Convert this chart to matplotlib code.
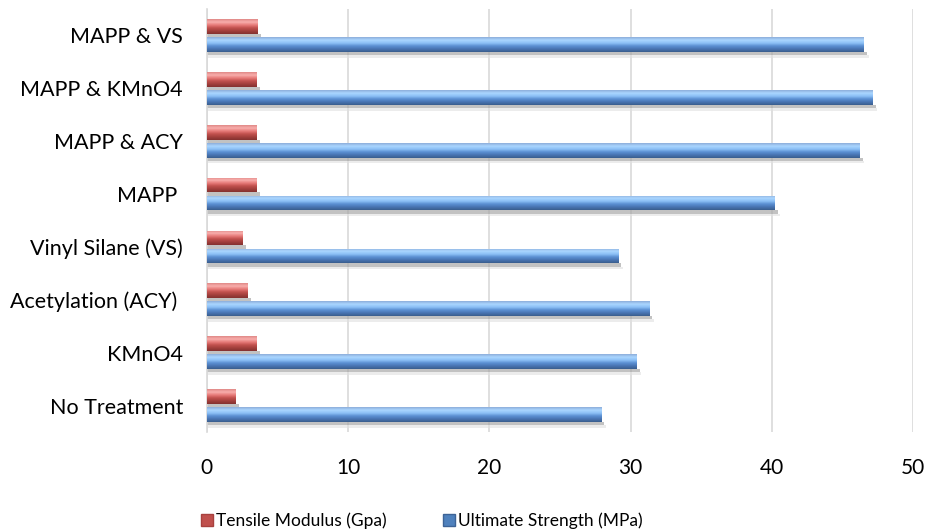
import numpy as np
import matplotlib
matplotlib.use("Agg")
import matplotlib.pyplot as plt
from matplotlib.colors import LinearSegmentedColormap
from matplotlib.patches import Rectangle, Patch

treatments = ["No Treatment", "KMnO4", "Acetylation (ACY) ", "Vinyl Silane (VS)",
              "MAPP ", "MAPP & ACY", "MAPP & KMnO4", "MAPP & VS"]
modulus = [2.0, 3.5, 2.9, 2.5, 3.5, 3.5, 3.5, 3.6]          # Tensile Modulus (Gpa)
strength = [27.9, 30.4, 31.3, 29.1, 40.2, 46.2, 47.1, 46.5]  # Ultimate Strength (MPa)
xticks = [0, 10, 20, 30, 40, 50]

plt.rcParams['font.family'] = ['Lato', 'DejaVu Sans']

# top -> bottom shading for the "cylinder" look
blue_cm = LinearSegmentedColormap.from_list(
    "b", ["#8eaedb", "#aad6ff", "#8cc0f6", "#5b8fd2", "#4874b2", "#3a5e8e"])
red_cm = LinearSegmentedColormap.from_list(
    "r", ["#e08a88", "#f8aeac", "#e77a78", "#c0504d", "#a23f3c", "#843230"])
grad = np.linspace(0, 1, 64).reshape(-1, 1)

fig, ax = plt.subplots(figsize=(9.27, 5.32), dpi=100)
fig.subplots_adjust(left=0.223, right=0.985, top=0.983, bottom=0.188)

y = np.arange(len(treatments))
h = 0.28
off = 0.17


def shaded_bars(ypos, vals, cmap, color):
    bars = ax.barh(ypos, vals, height=h, color=color, zorder=3)
    for b in bars:
        x0, y0 = b.get_x(), b.get_y()
        w, hh = b.get_width(), b.get_height()
        # soft shadow under the bar
        ax.add_patch(Rectangle((x0, y0 - 0.06), w + 0.25, 0.06,
                               color="#a8a8a8", alpha=0.7, lw=0, zorder=2))
        ax.add_patch(Rectangle((x0, y0 - 0.11), w + 0.35, 0.05,
                               color="#e0e0e0", alpha=0.6, lw=0, zorder=2))
        im = ax.imshow(grad, cmap=cmap, aspect="auto", origin="upper",
                       extent=(x0, x0 + w, y0, y0 + hh), zorder=4)
        im.set_clip_path(b)
    return bars


shaded_bars(y - off, strength, blue_cm, "#4f81bd")
shaded_bars(y + off, modulus, red_cm, "#c0504d")

ax.set_xlim(0, 50)
ax.set_ylim(-0.5, 7.5)
ax.set_xticks(xticks)
ax.set_yticks(y)
ax.set_yticklabels(treatments, fontsize=15.5)
ax.tick_params(axis="x", labelsize=15, length=0, pad=19)
ax.tick_params(axis="y", length=0, pad=17)
ax.grid(axis="x", color="#d9d9d9", lw=1.2, zorder=0)
for s in ["top", "right", "bottom"]:
    ax.spines[s].set_visible(False)
ax.spines["left"].set_color("#d9d9d9")
ax.spines["left"].set_linewidth(1.2)

handles = [Patch(facecolor="#c0504d", edgecolor="#a8413e"),
           Patch(facecolor="#4f81bd", edgecolor="#3d6396")]
fig.legend(handles, ["Tensile Modulus (Gpa)", "Ultimate Strength (MPa)"],
           loc="lower center", bbox_to_anchor=(0.455, -0.024), ncol=2, frameon=False,
           fontsize=12.5, handlelength=0.7, handleheight=0.7, handletextpad=0.2,
           columnspacing=3.2)

fig.savefig("out.png", dpi=100)
